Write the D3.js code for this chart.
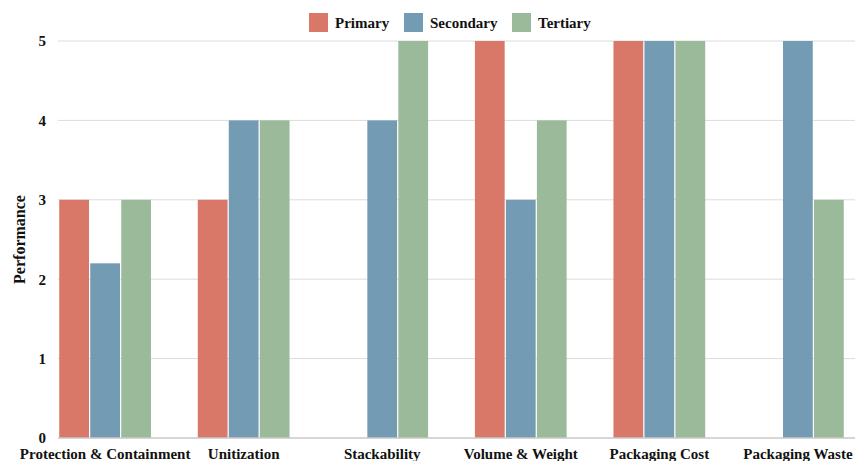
<!DOCTYPE html>
<html>
<head>
<meta charset="utf-8">
<script src="https://cdn.jsdelivr.net/npm/d3@7"></script>
<style>
  html, body { margin: 0; padding: 0; background: #fff; }
  svg text { font-family: "Liberation Serif", "Times New Roman", serif; font-weight: bold; fill: #111; }
</style>
</head>
<body>
<svg id="chart" width="855" height="461"></svg>
<script>
// Packaging level performance by criterion
const categories = ["Protection & Containment", "Unitization", "Stackability", "Volume & Weight", "Packaging Cost", "Packaging Waste"];
const seriesNames = ["Primary", "Secondary", "Tertiary"];
const primary = [3, 3, 0, 5, 5, 0];
const secondary = [2.2, 4, 4, 3, 5, 5];
const tertiary = [3, 4, 5, 4, 5, 3];
const yTicks = [0, 1, 2, 3, 4, 5];
const colors = ["#d97868", "#739bb4", "#9bba9a"];

const values = [primary, secondary, tertiary];
const rows = categories.map((c, i) => ({
  category: c,
  items: seriesNames.map((s, j) => ({ series: s, value: values[j][i] }))
}));

const svg = d3.select("#chart");
const plotLeft = 58, plotRight = 845, plotTop = 41, plotBottom = 438;

const x0 = d3.scaleBand().domain(categories).range([plotLeft, plotRight])
  .paddingInner(0.32).paddingOuter(0);
const x1 = d3.scaleBand().domain(seriesNames).range([0, x0.bandwidth()]).padding(0.04);
const y = d3.scaleLinear().domain([0, 5]).range([plotBottom, plotTop]);
const color = d3.scaleOrdinal().domain(seriesNames).range(colors);

// gridlines
svg.append("g").selectAll("line").data(yTicks.filter(d => d > 0)).join("line")
  .attr("x1", plotLeft).attr("x2", 855)
  .attr("y1", d => y(d)).attr("y2", d => y(d))
  .attr("stroke", "#dcdcdc").attr("stroke-width", 1);

// bars
svg.append("g").selectAll("g").data(rows).join("g")
  .attr("transform", d => `translate(${x0(d.category)},0)`)
  .selectAll("rect").data(d => d.items).join("rect")
  .attr("x", d => x1(d.series))
  .attr("width", x1.bandwidth())
  .attr("y", d => y(d.value))
  .attr("height", d => y(0) - y(d.value))
  .attr("fill", d => color(d.series));

// baseline
svg.append("line").attr("x1", plotLeft).attr("x2", 855)
  .attr("y1", y(0)).attr("y2", y(0))
  .attr("stroke", "#c8c8c8").attr("stroke-width", 1.5);

// y axis
const yAxis = svg.append("g").attr("transform", `translate(${plotLeft},0)`)
  .call(d3.axisLeft(y).tickValues(yTicks).tickFormat(d3.format("d")).tickSize(0).tickPadding(12));
yAxis.select(".domain").remove();
yAxis.selectAll("text").style("font-size", "15px").style("font-family", "Liberation Serif").style("font-weight", "bold");

// x axis
const xAxis = svg.append("g").attr("transform", `translate(0,${plotBottom})`)
  .call(d3.axisBottom(x0).tickSize(0).tickPadding(10));
xAxis.select(".domain").remove();
xAxis.selectAll("text").style("font-size", "15px").style("font-family", "Liberation Serif").style("font-weight", "bold");

// y title
svg.append("text")
  .attr("transform", `translate(25,${(plotTop + plotBottom) / 2}) rotate(-90)`)
  .attr("text-anchor", "middle")
  .style("font-size", "16px")
  .text("Performance");

// legend
const legendItems = [
  { name: "Primary", x: 309 },
  { name: "Secondary", x: 404 },
  { name: "Tertiary", x: 512 }
];
const legend = svg.append("g").selectAll("g").data(legendItems).join("g")
  .attr("transform", d => `translate(${d.x},13)`);
legend.append("rect").attr("width", 19).attr("height", 19)
  .attr("fill", d => color(d.name));
legend.append("text").attr("x", 26).attr("y", 15)
  .style("font-size", "15px")
  .text(d => d.name);
</script>
</body>
</html>
